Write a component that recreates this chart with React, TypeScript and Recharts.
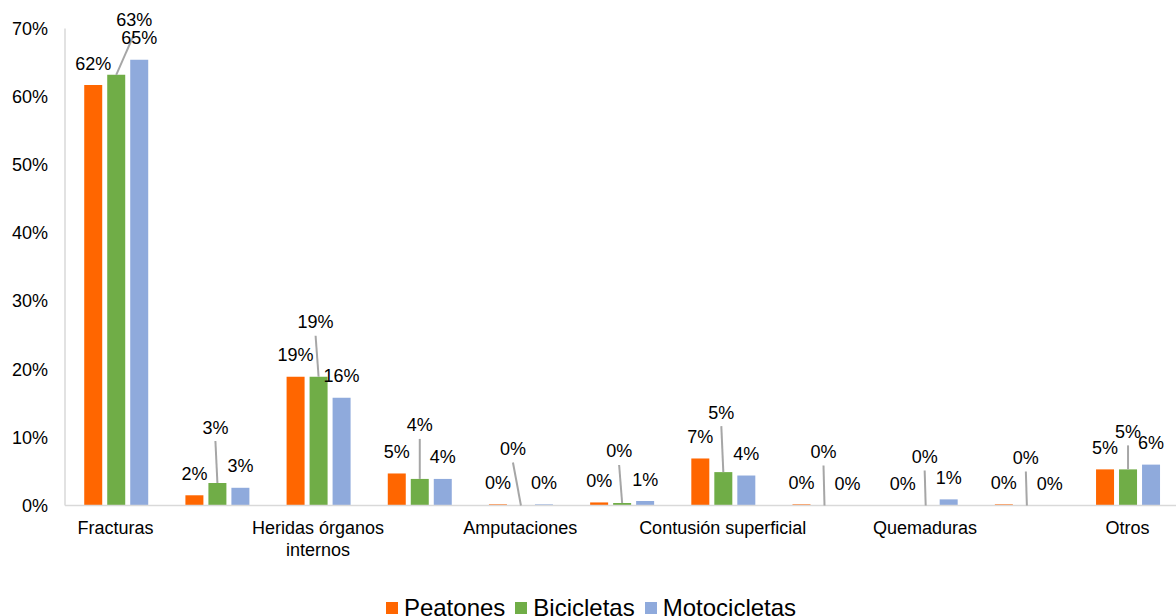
import React from 'react';
import { BarChart, Bar, XAxis, YAxis, Legend, LabelList, Text } from 'recharts';

const FONT = '"Liberation Sans", Arial, sans-serif';

const categories = [
  'Fracturas',
  'Luxaciones',
  'Heridas órganos internos',
  'Esguinces',
  'Amputaciones',
  'Heridas abiertas',
  'Contusión superficial',
  'Traumatismo craneal',
  'Quemaduras',
  'Intoxicaciones',
  'Otros',
];
const peatones = [61.7, 1.5, 18.9, 4.7, 0.17, 0.45, 6.9, 0.17, 0, 0.17, 5.3];
const bicicletas = [63.2, 3.3, 18.9, 3.9, 0, 0.37, 4.9, 0, 0, 0, 5.3];
const motocicletas = [65.4, 2.6, 15.8, 3.9, 0.17, 0.66, 4.4, 0, 0.9, 0, 6.0];
const seriesNames = ['Peatones', 'Bicicletas', 'Motocicletas'];
const seriesColors = ['#FF6600', '#70AD47', '#8FAADC'];
const yTicks = [0, 10, 20, 30, 40, 50, 60, 70];

// label placement tweaks (manually dragged labels with leader lines)
const greenLift = [55, 56, 55, 54, 57, 52, 60, 54, 49, 48, 38];
const greenShift = [18, -2, -3, 0, -8, -3, -2, -1, -1, -1, 0];

const data = categories.map((name, i) => ({
  name,
  peatones: peatones[i],
  bicicletas: bicicletas[i],
  motocicletas: motocicletas[i],
}));

const fmt = (v: number) => `${Math.round(v)}%`;

const TopLabel = (props: any) => {
  const { x, y, width, value } = props;
  return (
    <text
      x={x + width / 2}
      y={y - 22 + 6.5}
      textAnchor="middle"
      fontSize={18}
      fontFamily={FONT}
      fill="#000"
    >
      {fmt(value)}
    </text>
  );
};

const GreenLabel = (props: any) => {
  const { x, y, width, value, index } = props;
  const cx = x + width / 2;
  const lx = cx + (greenShift[index] ?? 0);
  const ly = y - (greenLift[index] ?? 55);
  return (
    <g>
      <line x1={lx} y1={ly + 14} x2={cx} y2={y} stroke="#a6a6a6" strokeWidth={2} />
      <text
        x={lx}
        y={ly + 6.5}
        textAnchor="middle"
        fontSize={18}
        fontFamily={FONT}
        fill="#000"
      >
        {fmt(value)}
      </text>
    </g>
  );
};

const CategoryTick = (props: any) => {
  const { x, y, payload } = props;
  return (
    <Text
      x={x}
      y={y + 16}
      width={190}
      textAnchor="middle"
      verticalAnchor="start"
      lineHeight={22}
      fontSize={18}
      fontFamily={FONT}
      fill="#000"
      style={{ fontSize: '18px', fontFamily: FONT }}
    >
      {payload.value}
    </Text>
  );
};

const LegendContent = () => (
  <div
    style={{
      display: 'flex',
      justifyContent: 'center',
      alignItems: 'center',
      fontFamily: FONT,
      fontSize: 24,
      lineHeight: 'normal',
      color: '#000',
      whiteSpace: 'nowrap',
    }}
  >
    {seriesNames.map((n, i) => (
      <div key={n} style={{ display: 'flex', alignItems: 'center', marginRight: i < 2 ? 10 : 0 }}>
        <span
          style={{
            display: 'inline-block',
            width: 12,
            height: 12,
            background: seriesColors[i],
            marginRight: 6,
          }}
        />
        <span>{n}</span>
      </div>
    ))}
  </div>
);

export default function App() {
  return (
    <div
      style={{
        position: 'absolute',
        left: 0,
        top: 0,
        width: 1176,
        height: 616,
        overflow: 'hidden',
        background: '#fff',
      }}
    >
      <BarChart
        width={1176}
        height={616}
        data={data}
        margin={{ top: 28.5, right: -2, left: 0, bottom: 50.5 }}
        barCategoryGap="19%"
        barGap={5}
      >
        <XAxis
          dataKey="name"
          interval={1}
          height={60}
          tickLine={false}
          tickSize={0}
          tickMargin={0}
          axisLine={{ stroke: '#d9d9d9', strokeWidth: 1.5 }}
          tick={<CategoryTick />}
        />
        <YAxis
          domain={[0, 70]}
          ticks={yTicks}
          interval={0}
          width={65}
          tickLine={false}
          tickSize={0}
          tickMargin={17}
          axisLine={{ stroke: '#d9d9d9', strokeWidth: 1.5 }}
          tickFormatter={(v: number) => `${v}%`}
          tick={{ fontSize: 18, fill: '#000', fontFamily: FONT }}
        />
        <Legend
          layout="horizontal"
          verticalAlign="middle"
          align="center"
          wrapperStyle={{ top: 593.5, left: 3, width: 1176 }}
          content={<LegendContent />}
        />
        <Bar dataKey="peatones" name={seriesNames[0]} fill={seriesColors[0]} minPointSize={0.01} isAnimationActive={false}>
          <LabelList dataKey="peatones" content={<TopLabel />} />
        </Bar>
        <Bar dataKey="bicicletas" name={seriesNames[1]} fill={seriesColors[1]} minPointSize={0.01} isAnimationActive={false}>
          <LabelList dataKey="bicicletas" content={<GreenLabel />} />
        </Bar>
        <Bar dataKey="motocicletas" name={seriesNames[2]} fill={seriesColors[2]} minPointSize={0.01} isAnimationActive={false}>
          <LabelList dataKey="motocicletas" content={<TopLabel />} />
        </Bar>
      </BarChart>
    </div>
  );
}
